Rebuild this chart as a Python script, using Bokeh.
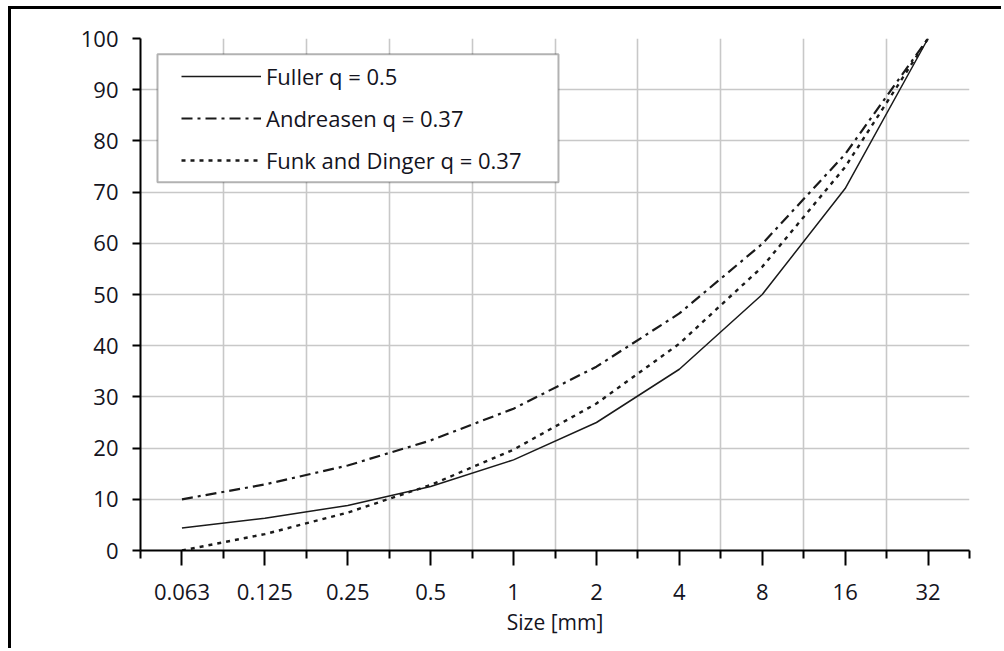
from math import pi

from bokeh.embed import file_html
from bokeh.models import BoxAnnotation, FixedTicker, Label, Legend, LegendItem
from bokeh.plotting import figure
from bokeh.resources import INLINE

# Particle size classes [mm] and cumulative passing P(d) [%]
sizes = ["0.063", "0.125", "0.25", "0.5", "1", "2", "4", "8", "16", "32"]
fuller = [4.4, 6.3, 8.8, 12.5, 17.7, 25.0, 35.4, 50.0, 70.7, 100.0]
andreasen = [10.0, 12.9, 16.6, 21.5, 27.7, 35.9, 46.3, 59.9, 77.4, 100.0]
funk_dinger = [0.0, 3.2, 7.4, 12.8, 19.7, 28.7, 40.4, 55.4, 74.9, 100.0]
y_ticks = [0, 10, 20, 30, 40, 50, 60, 70, 80, 90, 100]

FONT = "Open Sans"
TEXT = "#14141e"

xs = list(range(len(sizes)))
bounds = [i - 0.5 for i in range(len(sizes) + 1)]

p = figure(
    width=993, height=642,
    output_backend="svg", toolbar_location=None,
    x_range=(bounds[0], bounds[-1]), y_range=(y_ticks[0], y_ticks[-1]),
    min_border_left=129, min_border_right=35,
    min_border_top=29, min_border_bottom=101,
)
p.styles = {
    "margin-left": "8px", "margin-top": "6px",
    "border-left": "3px solid black", "border-top": "3px solid black",
}
p.outline_line_color = None
p.background_fill_color = "white"
p.border_fill_color = "white"

# grid: vertical lines between the size classes, horizontal every 10 %
p.xgrid.ticker = FixedTicker(ticks=bounds)
p.ygrid.ticker = FixedTicker(ticks=y_ticks)
for g in (p.xgrid, p.ygrid):
    g.grid_line_color = "#c8c8c8"
    g.grid_line_width = 1.6

# x axis
xa = p.xaxis[0]
xa.ticker = FixedTicker(ticks=xs, minor_ticks=bounds)
xa.major_label_overrides = {i: s for i, s in zip(xs, sizes)}
xa.axis_label = "Size [mm]"
xa.axis_label_text_font = FONT
xa.axis_label_text_font_size = "21px"
xa.axis_label_text_font_style = "normal"
xa.axis_label_text_color = TEXT
xa.axis_label_standoff = 5
xa.major_tick_in = 0
xa.major_tick_out = 15
xa.minor_tick_in = 0
xa.minor_tick_out = 8
xa.minor_tick_line_color = "black"
xa.minor_tick_line_width = 2
xa.major_label_standoff = 18

# y axis
ya = p.yaxis[0]
ya.ticker = FixedTicker(ticks=y_ticks)
ya.major_tick_in = 0
ya.major_tick_out = 8
ya.minor_tick_line_color = None
ya.major_label_standoff = 14

for ax in (xa, ya):
    ax.axis_line_color = "black"
    ax.axis_line_width = 2
    ax.major_tick_line_color = "black"
    ax.major_tick_line_width = 2
    ax.major_label_text_font = FONT
    ax.major_label_text_font_size = "22px"
    ax.major_label_text_color = TEXT

# y-axis title: italic symbol followed by upright unit
p.add_layout(Label(x=-1.48, y=41.6, text="P(d)", angle=pi / 2,
                   text_font=FONT, text_font_size="20px", text_font_style="italic",
                   text_color=TEXT, text_align="left", text_baseline="middle"))
p.add_layout(Label(x=-1.48, y=52.3, text="[%]", angle=pi / 2,
                   text_font=FONT, text_font_size="20px",
                   text_color=TEXT, text_align="left", text_baseline="middle"))

# grading curves
r_fuller = p.line(xs, fuller, line_color="#1a1a1a", line_width=1.5)
r_andreasen = p.line(xs, andreasen, line_color="#1a1a1a", line_width=2.2,
                     line_dash="11 5 3 5")
r_funk = p.line(xs, funk_dinger, line_color="#1a1a1a", line_width=2.4,
                line_dash="4 5")

# legend frame with white fill, entries drawn on top of it
p.add_layout(BoxAnnotation(left=-0.295, right=4.542, top=96.9, bottom=71.9,
                           fill_color="white", fill_alpha=1.0,
                           line_color="black", line_width=2))

legend = Legend(
    items=[
        LegendItem(label="Fuller q = 0.5", renderers=[r_fuller]),
        LegendItem(label="Andreasen q = 0.37", renderers=[r_andreasen]),
        LegendItem(label="Funk and Dinger q = 0.37", renderers=[r_funk]),
    ],
    location=(41, 371),
    margin=0, padding=0, spacing=4,
    glyph_width=80, glyph_height=38, label_height=38, label_standoff=5,
    label_text_font=FONT, label_text_font_size="22px", label_text_color=TEXT,
    border_line_color=None, background_fill_alpha=0.0,
)
p.add_layout(legend)

open("out.html", "w").write(file_html(p, INLINE))
